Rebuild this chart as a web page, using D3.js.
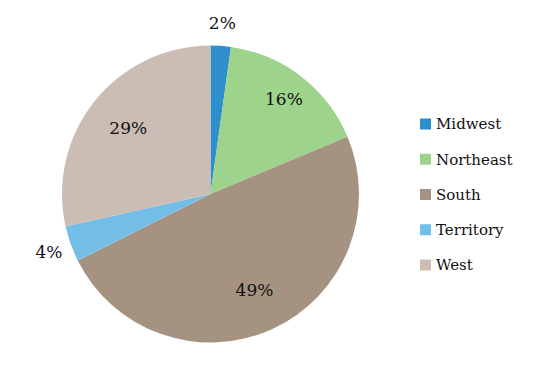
<!DOCTYPE html>
<html>
<head>
<meta charset="utf-8">
<script src="https://cdn.jsdelivr.net/npm/d3@7"></script>
<style>
  body { margin: 0; background: #fff; }
</style>
</head>
<body>
<div id="chart"></div>
<script>
const regions = ['Midwest', 'Northeast', 'South', 'Territory', 'West']
const shares = [2.2, 16.5, 48.9, 3.9, 28.5]
const labels = ['2%', '16%', '49%', '4%', '29%']
const colors = ['#2e8fca', '#9dd38b', '#a69281', '#73bee6', '#cbbdb3']

const chartWidth = 560
const chartHeight = 373
const cx = 210.5
const cy = 194
const radius = 148.5
const fontFamily = '"DejaVu Serif", serif'

const svg = d3.select('#chart')
  .append('svg')
  .attr('width', chartWidth)
  .attr('height', chartHeight)

const data = regions.map((r, i) => ({ region: r, value: shares[i], label: labels[i], color: colors[i] }))

const pie = d3.pie().sort(null).value((d) => d.value)
const arcs = pie(data)
const arc = d3.arc().innerRadius(0).outerRadius(radius)

const g = svg.append('g').attr('transform', `translate(${cx}, ${cy})`)

g.selectAll('path')
  .data(arcs)
  .enter()
  .append('path')
  .attr('d', arc)
  .attr('fill', (d) => d.data.color)

// small slices get labels outside the pie, others inside
const labelRadius = (d) => {
  if (d.data.value < 5) return radius + 23
  if (d.data.value < 20) return radius * 0.81
  return radius * 0.71
}

g.selectAll('.label')
  .data(arcs)
  .enter()
  .append('text')
  .attr('class', 'label')
  .attr('transform', (d) => {
    const a = (d.startAngle + d.endAngle) / 2
    const r = labelRadius(d)
    return `translate(${Math.sin(a) * r}, ${-Math.cos(a) * r})`
  })
  .attr('text-anchor', 'middle')
  .attr('dy', '0.35em')
  .attr('font-family', fontFamily)
  .attr('font-size', 17)
  .attr('fill', '#111')
  .text((d) => d.data.label)

const legend = svg.append('g').attr('transform', 'translate(420, 124)')
const legendY = d3.scalePoint().domain(regions).range([0, 141])

const item = legend.selectAll('.item')
  .data(data)
  .enter()
  .append('g')
  .attr('class', 'item')
  .attr('transform', (d) => `translate(0, ${legendY(d.region)})`)

item.append('rect')
  .attr('x', 0)
  .attr('y', -5.5)
  .attr('width', 11)
  .attr('height', 11)
  .attr('fill', (d) => d.color)

item.append('text')
  .attr('x', 16)
  .attr('dy', '0.35em')
  .attr('font-family', fontFamily)
  .attr('font-size', 15)
  .attr('fill', '#111')
  .text((d) => d.region)
</script>
</body>
</html>
